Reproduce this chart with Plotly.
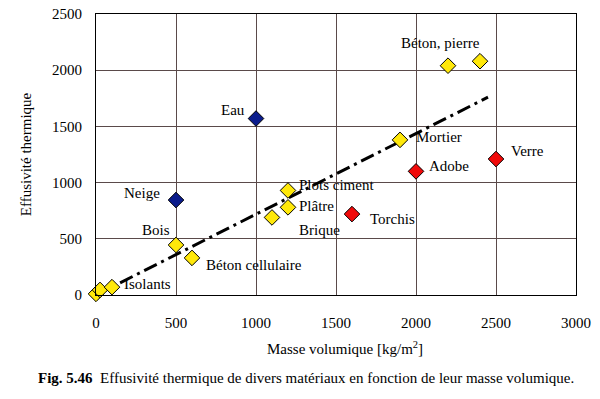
import plotly.graph_objects as go

# Data
names_yellow = ["Isolants a", "Isolants b", "Isolants c", "Bois", "Béton cellulaire", "Brique",
                "Plâtre", "Plots ciment", "Mortier", "Béton a", "Béton b"]
x_yellow = [0, 25, 100, 500, 600, 1100, 1200, 1200, 1900, 2200, 2400]
y_yellow = [10, 45, 70, 445, 330, 690, 780, 930, 1380, 2040, 2080]

names_blue = ["Neige", "Eau"]
x_blue = [500, 1000]
y_blue = [845, 1570]

names_red = ["Torchis", "Adobe", "Verre"]
x_red = [1600, 2000, 2500]
y_red = [720, 1100, 1210]

trend_x = [0, 2450]
trend_y = [0, 1760]

# labels: text, x, y, anchor
labels = [
    ("Eau", 944, 1646, "right"),
    ("Neige", 412, 907, "right"),
    ("Bois", 475, 578, "right"),
    ("Béton cellulaire", 672, 267, "left"),
    ("Isolants", 160, 100, "left"),
    ("Plots ciment", 1255, 979, "left"),
    ("Plâtre", 1255, 790, "left"),
    ("Brique", 1255, 578, "left"),
    ("Torchis", 1700, 676, "left"),
    ("Mortier", 1987, 1406, "left"),
    ("Adobe", 2069, 1148, "left"),
    ("Verre", 2581, 1281, "left"),
    ("Béton, pierre", 2150, 2242, "center"),
]

x_ticks = [0, 500, 1000, 1500, 2000, 2500, 3000]
y_ticks = [0, 500, 1000, 1500, 2000, 2500]

FONT = "'Liberation Serif', 'Times New Roman', 'DejaVu Serif', serif"

fig = go.Figure()
fig.add_trace(go.Scatter(x=trend_x, y=trend_y, mode="lines",
                         line=dict(color="black", width=3, dash="14px,5px,3px,5px"),
                         hoverinfo="skip", showlegend=False))
marker_line = dict(color="black", width=1)
fig.add_trace(go.Scatter(x=x_yellow, y=y_yellow, mode="markers", text=names_yellow, cliponaxis=False,
                         marker=dict(symbol="diamond", size=12, color="#FFE80A", line=marker_line),
                         showlegend=False))
fig.add_trace(go.Scatter(x=x_blue, y=y_blue, mode="markers", text=names_blue, cliponaxis=False,
                         marker=dict(symbol="diamond", size=12, color="#0B1C8C", line=marker_line),
                         showlegend=False))
fig.add_trace(go.Scatter(x=x_red, y=y_red, mode="markers", text=names_red, cliponaxis=False,
                         marker=dict(symbol="diamond", size=12, color="#F00A0A", line=marker_line),
                         showlegend=False))

for t, lx, ly, anc in labels:
    fig.add_annotation(x=lx, y=ly, text=t, showarrow=False, xanchor=anc, yanchor="middle",
                       font=dict(family=FONT, size=15, color="black"))

fig.add_annotation(xref="paper", yref="paper", x=0.519, y=-0.19, yanchor="middle",
                   text="Masse volumique [kg/m<sup>2</sup>]", showarrow=False,
                   font=dict(family=FONT, size=15, color="black"))
fig.add_annotation(xref="paper", yref="paper", x=-0.125, y=-0.295, xanchor="left", yanchor="middle",
                   text="<b>Fig. 5.46</b>  Effusivité thermique de divers matériaux en fonction de leur masse volumique.",
                   showarrow=False, font=dict(family=FONT, size=15, color="black"))

fig.update_xaxes(range=[0, 3000], tickvals=x_ticks, showgrid=True, gridcolor="#5a4a4a", gridwidth=1,
                 zeroline=False, showline=True, linecolor="black", linewidth=1, mirror=True,
                 automargin=False,
                 ticks="", ticklabelstandoff=14, tickfont=dict(family=FONT, size=15, color="black"))
fig.update_yaxes(range=[0, 2500], tickvals=y_ticks, showgrid=True, gridcolor="#5a4a4a", gridwidth=1,
                 zeroline=False, showline=True, linecolor="black", linewidth=1, mirror=True,
                 automargin=False,
                 ticks="", ticklabelstandoff=10, tickfont=dict(family=FONT, size=15, color="black"),
                 title=dict(text="Effusivité thermique", standoff=16,
                            font=dict(family=FONT, size=15, color="black")))

fig.update_layout(width=600, height=399, margin=dict(l=96, r=24, t=14, b=104),
                  plot_bgcolor="white", paper_bgcolor="white", font=dict(family=FONT))

fig.write_html("out.html", config={"displayModeBar": False},
               post_script="document.body.style.margin='0';")
